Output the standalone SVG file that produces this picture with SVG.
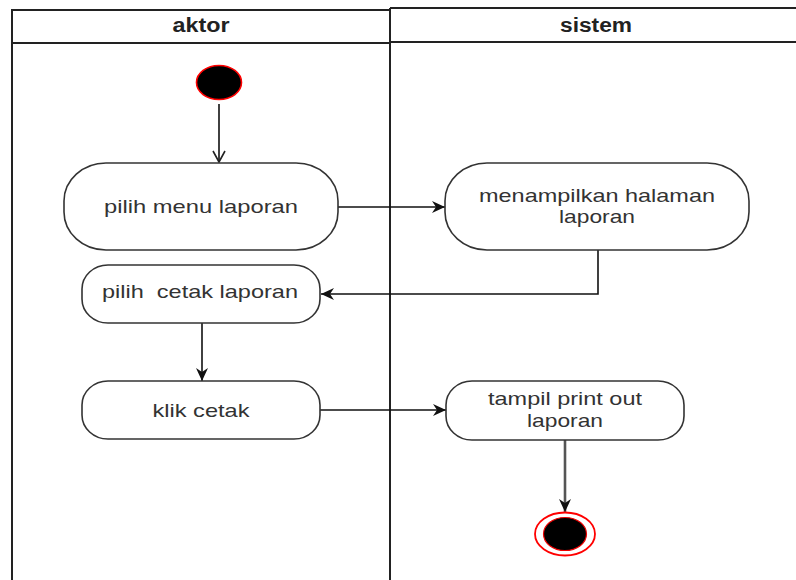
<svg xmlns="http://www.w3.org/2000/svg" width="796" height="580" viewBox="0 0 796 580">
<style>
.lane{fill:none;stroke:#222;stroke-width:2}
.node{fill:#fff;stroke:#333;stroke-width:1.6}
.t{font-family:"Liberation Sans",Arial,sans-serif;font-size:19px;fill:#333;text-anchor:middle}
.h{font-family:"Liberation Sans",Arial,sans-serif;font-size:19.5px;font-weight:bold;fill:#222;text-anchor:middle}
.c{fill:none;stroke:#111;stroke-width:1.6}
</style>
<defs>
<marker id="arr" markerUnits="userSpaceOnUse" markerWidth="14" markerHeight="12" refX="13" refY="6" orient="auto">
<path d="M0,0 L13,6 L0,12 L4,6 Z" fill="#111"/>
</marker>
<marker id="open" markerUnits="userSpaceOnUse" markerWidth="14" markerHeight="14" refX="12" refY="7" orient="auto">
<path d="M1,1 L12,7 L1,13" fill="none" stroke="#222" stroke-width="1.6"/>
</marker>
</defs>
<g id="lane-aktor">
<path class="lane" d="M12,580 V10 H390 V580 M12,43 H390"/>
<text class="h" x="201" y="32" textLength="57" lengthAdjust="spacingAndGlyphs">aktor</text>
</g>
<g id="lane-sistem">
<path class="lane" d="M390,8 H800 M390,8 V580 M390,42 H800"/>
<text class="h" x="596" y="32" textLength="72" lengthAdjust="spacingAndGlyphs">sistem</text>
</g>
<g id="connectors">
<line class="c" x1="219" y1="104" x2="219" y2="162" marker-end="url(#open)"/>
<line class="c" x1="338" y1="207" x2="445" y2="207" marker-end="url(#arr)"/>
<polyline class="c" points="598,250 598,294 321,294" marker-end="url(#arr)"/>
<line class="c" x1="202" y1="323" x2="202" y2="381" marker-end="url(#arr)"/>
<line class="c" x1="320" y1="410" x2="446" y2="410" marker-end="url(#arr)"/>
<line x1="565" y1="440" x2="565" y2="512" stroke="#555" stroke-width="2.6" marker-end="url(#arr)"/>
</g>
<g id="start">
<ellipse cx="219" cy="82.5" rx="22.5" ry="17" fill="#000" stroke="#f00" stroke-width="1.6"/>
</g>
<g id="n1">
<rect class="node" x="64" y="163" width="274" height="87" rx="42" ry="38"/>
<text class="t" x="201" y="213" textLength="194" lengthAdjust="spacingAndGlyphs">pilih menu laporan</text>
</g>
<g id="n3">
<rect class="node" x="445" y="163" width="304" height="87" rx="42" ry="38"/>
<text class="t" x="597" y="202" textLength="236" lengthAdjust="spacingAndGlyphs">menampilkan halaman</text>
<text class="t" x="597" y="223" textLength="76" lengthAdjust="spacingAndGlyphs">laporan</text>
</g>
<g id="n2">
<rect class="node" x="82" y="265" width="238" height="58" rx="26" ry="24"/>
<text class="t" x="200" y="298" textLength="196" lengthAdjust="spacingAndGlyphs" xml:space="preserve" style="white-space:pre">pilih  cetak laporan</text>
</g>
<g id="n4">
<rect class="node" x="82" y="381" width="238" height="58" rx="26" ry="24"/>
<text class="t" x="201" y="417" textLength="97" lengthAdjust="spacingAndGlyphs">klik cetak</text>
</g>
<g id="n5">
<rect class="node" x="446" y="381" width="238" height="59" rx="26" ry="24"/>
<text class="t" x="565" y="405" textLength="154" lengthAdjust="spacingAndGlyphs">tampil print out</text>
<text class="t" x="565" y="427" textLength="76" lengthAdjust="spacingAndGlyphs">laporan</text>
</g>
<g id="end">
<ellipse cx="565" cy="534" rx="30" ry="21.5" fill="#fff" stroke="#f00" stroke-width="1.8"/>
<ellipse cx="565" cy="534" rx="21.5" ry="16.5" fill="#000" stroke="#e00" stroke-width="1.2"/>
</g>
</svg>
